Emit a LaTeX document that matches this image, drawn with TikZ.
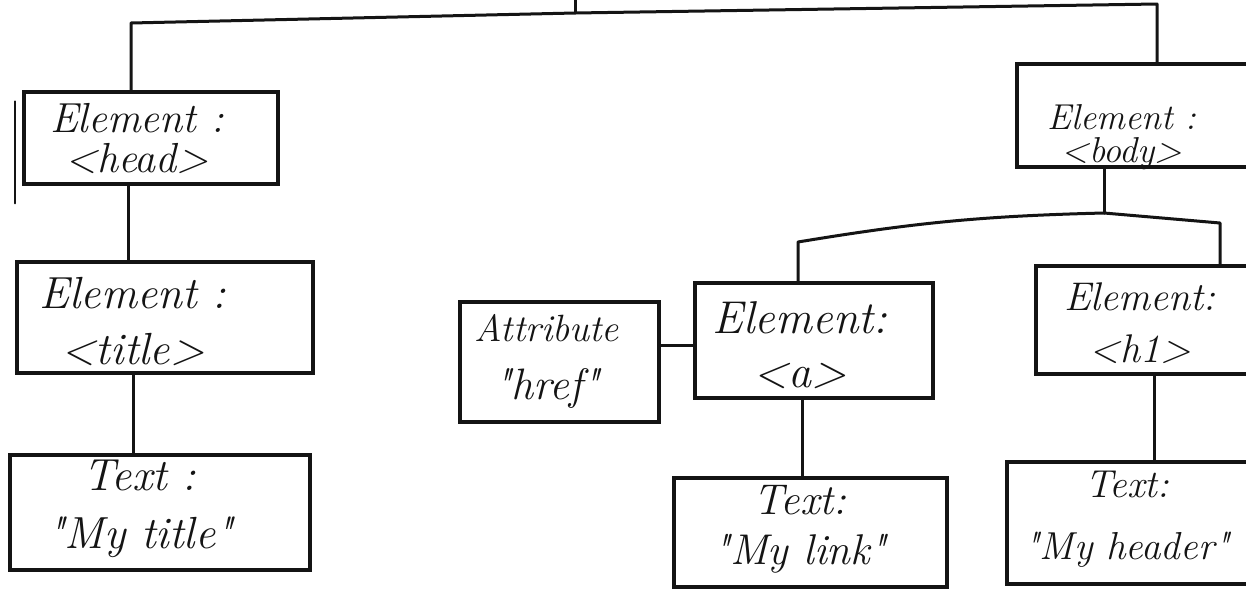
\documentclass[tikz,border=0pt]{standalone}
\usetikzlibrary{calc}
\definecolor{ink}{HTML}{141414}
\newcommand\qq{\textquotedbl}
\tikzset{
  box/.style 2 args={draw=ink, line width=3.4pt, rectangle, inner sep=0pt,
    minimum width=#1, minimum height=#2},
  hw/.style 2 args={font=\itshape\fontsize{#1}{#2}\selectfont, text=ink,
    align=center, inner sep=0pt},
  wire/.style={draw=ink, line width=3pt, line cap=round, line join=round},
}
\begin{document}
\begin{tikzpicture}[x=1pt,y=-1pt]
\useasboundingbox[fill=white] (0,0) rectangle (1246,595);

% --- boxes of the tree ---
\node[box={254}{92}]  (head)   at (151,138)   {};
\node[box={296}{111}] (title)  at (165,317.5) {};
\node[box={300}{115}] (mytitle) at (160,512.5) {};
\node[box={199}{120}] (attr)   at (559.5,362) {};
\node[box={238}{115}] (a)      at (814,340.5) {};
\node[box={273}{109}] (link)   at (810.5,532.5) {};
\node[box={243}{103}] (body)   at (1138.5,115.5) {};
\node[box={224}{108}] (h1)     at (1148,320)  {};
\node[box={253}{122}] (header) at (1133.5,523) {};

% --- handwritten labels ---
\node[hw={42}{40}] (headt)   at (137,139) {Element :\\<head>};
\node[hw={45}{56}] (titlet)  at (133,322) {Element :\\<title>};
\node[hw={45}{58}] (mytitlet) at (140,509) {Text :\\\qq My title\qq};
\node[hw={38}{58}] (attrt)   at (547,361) {Attribute\\{\fontsize{44}{50}\selectfont \qq href\qq}};
\node[hw={46}{54}] (at)      at (800,345) {Element:\\<a>};
\node[hw={43}{50}] (linkt)   at (800,529) {Text:\\\qq My link\qq};
\node[hw={36}{33}] (bodyt)   at (1122,137) {Element :\\<body>};
\node[hw={40}{52}] (h1t)     at (1140,323) {Element:\\<h1>};
\node[hw={39}{62}] (headert) at (1127,519) {Text:\\\qq My header\qq};

% stray stroke beside the head box
\draw[wire, line width=2pt] ([xshift=-7pt,yshift=-11pt]head.north west) -- ++(0,102);

% --- connectors ---
\coordinate (root)  at (575,0);
\coordinate (rootj) at (575,13);
\coordinate (tl)    at (131,23);
\coordinate (tr)    at (1157,4);
\draw[wire] (root) -- (rootj);
\draw[wire] (head.north -| tl) -- (tl) -- (rootj) -- (tr) -- (body.north -| tr);

\draw[wire] ([xshift=-23pt]head.south) -- ([xshift=-23pt]head.south |- title.north);
\draw[wire] ([xshift=-32pt]title.south) -- ([xshift=-32pt]title.south |- mytitle.north);

\draw[wire] ([yshift=17pt]attr.east) -- ([yshift=17pt]attr.east -| a.west);
\draw[wire] ([xshift=-12pt]a.south) -- ([xshift=-12pt]a.south |- link.north);

\coordinate (bj) at (1104,213);
\coordinate (al) at (798,242);
\coordinate (ar) at (1220,223);
\draw[wire] ([xshift=-34.5pt]body.south) -- (bj);
\draw[wire] (a.north -| al) -- (al) to[bend left=4] (bj) -- (ar) -- (ar |- h1.north);
\draw[wire] ([xshift=6pt]h1.south) -- ([xshift=6pt]h1.south |- header.north);
\end{tikzpicture}
\end{document}
